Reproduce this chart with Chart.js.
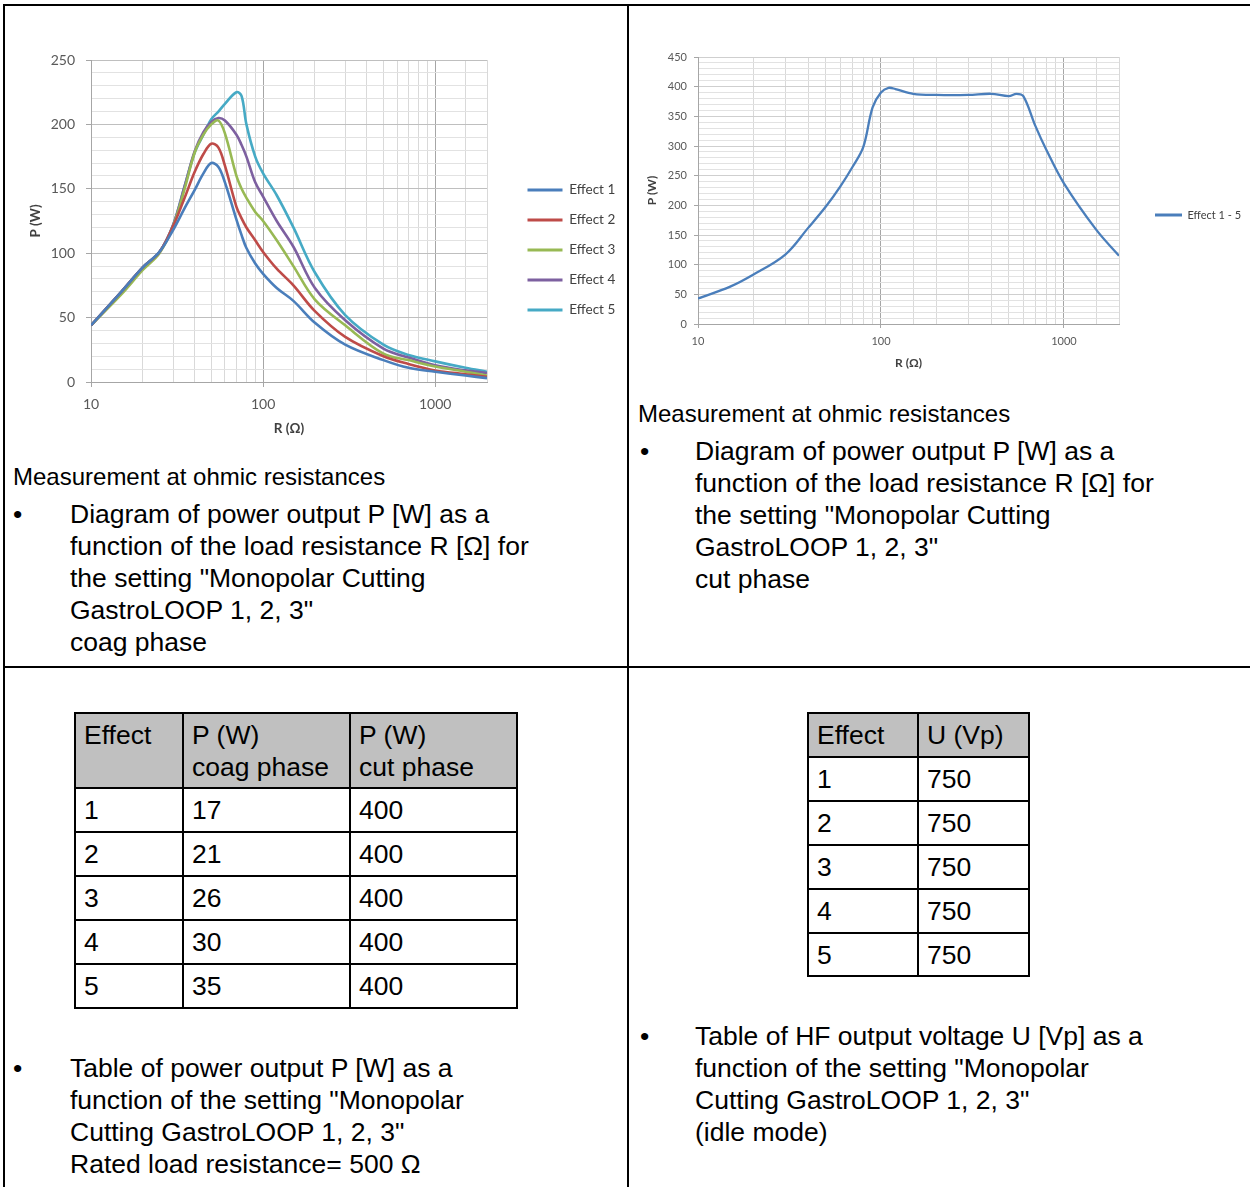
<!DOCTYPE html>
<html>
<head>
<meta charset="utf-8">
<script src="https://cdn.jsdelivr.net/npm/chart.js@4.4.1/dist/chart.umd.min.js"></script>
<style>
  body { margin: 0; width: 1250px; height: 1187px; overflow: hidden; background: #fff; position: relative;
         font-family: "Liberation Sans", Arial, sans-serif; color: #000; }
  .ln { position: absolute; background: #000; }
  .txt { position: absolute; font-size: 26.5px; line-height: 32px; white-space: nowrap; }
  .cap { position: absolute; font-size: 24px; line-height: 32px; white-space: nowrap; }
  canvas { position: absolute; }
  table { position: absolute; border-collapse: collapse; table-layout: fixed; font-size: 26.5px; }
  td { border: 2px solid #000; padding: 0 0 0 8px; line-height: 32px; white-space: nowrap; vertical-align: middle; }
  tr.head td { background: #c0c0c0; vertical-align: top; padding-top: 5px; }
</style>
</head>
<body>
<div class="ln" style="left:3px;top:4px;width:2px;height:1183px"></div>
<div class="ln" style="left:3px;top:4px;width:1247px;height:2px"></div>
<div class="ln" style="left:627px;top:4px;width:2px;height:1183px"></div>
<div class="ln" style="left:3px;top:666px;width:1247px;height:2px"></div>

<canvas id="coag" width="601" height="410" style="left:20px;top:30px"></canvas>
<canvas id="cut" width="608" height="343" style="left:640px;top:30px"></canvas>

<div class="cap" style="left:13px;top:461px">Measurement at ohmic resistances</div>
<div class="txt" style="left:13px;top:498px">•</div>
<div class="txt" style="left:70px;top:498px">Diagram of power output P [W] as a<br>function of the load resistance R [Ω] for<br>the setting "Monopolar Cutting<br>GastroLOOP 1, 2, 3"<br>coag phase</div>

<div class="cap" style="left:638px;top:398px">Measurement at ohmic resistances</div>
<div class="txt" style="left:640px;top:435px">•</div>
<div class="txt" style="left:695px;top:435px">Diagram of power output P [W] as a<br>function of the load resistance R [Ω] for<br>the setting "Monopolar Cutting<br>GastroLOOP 1, 2, 3"<br>cut phase</div>

<table id="tblPower" style="left:74px;top:712px"></table>
<div class="txt" style="left:13px;top:1052px">•</div>
<div class="txt" style="left:70px;top:1052px">Table of power output P [W] as a<br>function of the setting "Monopolar<br>Cutting GastroLOOP 1, 2, 3"<br>Rated load resistance= 500 Ω</div>

<table id="tblVolt" style="left:807px;top:712px"></table>
<div class="txt" style="left:640px;top:1020px">•</div>
<div class="txt" style="left:695px;top:1020px">Table of HF output voltage U [Vp] as a<br>function of the setting "Monopolar<br>Cutting GastroLOOP 1, 2, 3"<br>(idle mode)</div>

<script>
// coag phase, P (W) against R (ohm)
const rCoag    = [10, 15, 20, 25, 30, 35, 40, 45, 50, 55, 60, 70, 75, 80, 90, 100, 120, 150, 200, 300, 500, 700, 1000, 1500, 2000];
const effect1  = [44, 70, 89, 101, 118, 135, 149, 162, 170, 167, 155, 126, 114, 104, 92, 84, 73, 63, 46, 29, 17, 11, 8, 5, 3];
const effect2  = [44, 70, 89, 101, 121, 143, 163, 177, 185, 182, 168, 136, 127, 120, 110, 101, 88, 75, 55, 35, 20, 14, 9, 6, 4];
const effect3  = [44, 68, 87, 100, 121, 150, 178, 192, 200, 203, 193, 160, 150, 143, 132, 125, 110, 90, 64, 44, 22, 17, 12, 8, 5];
const effect4  = [44, 70, 89, 101, 122, 152, 179, 194, 202, 205, 203, 192, 184, 175, 155, 144, 125, 105, 73, 48, 26, 19, 13, 9, 7];
const effect5  = [44, 70, 89, 101, 122, 152, 178, 192, 204, 210, 216, 225, 222, 200, 175, 162, 145, 120, 85, 52, 29, 21, 16, 11, 8];

// cut phase, effect 1 - 5
const rCut     = [10, 15, 20, 30, 40, 50, 60, 70, 80, 90, 100, 110, 120, 150, 200, 300, 400, 500, 550, 600, 700, 800, 1000, 1500, 2000];
const pCut     = [43, 63, 83, 117, 162, 198, 232, 265, 298, 365, 390, 398, 396, 388, 386, 386, 388, 384, 388, 384, 333, 294, 237, 159, 115];

// tables
const effects  = [1, 2, 3, 4, 5];
const pCoagTab = [17, 21, 26, 30, 35];
const pCutTab  = [400, 400, 400, 400, 400];
const uIdle    = [750, 750, 750, 750, 750];

const decades = [10, 100, 1000];
const colors = ['#4a7ebb', '#be4b48', '#98b954', '#7d60a0', '#46aac5'];

function pts(xs, ys) { return xs.map((x, i) => ({x: x, y: ys[i]})); }
function isDecade(v) { return decades.includes(Math.round(v)); }

function axes(o) {
  return {
    x: {
      type: 'logarithmic', min: 10, max: 2000,
      afterFit: s => { s.height = o.xh; },
      border: {color: '#a6a6a6', width: 1},
      grid: {
        color: c => isDecade(c.tick.value) ? '#a6a6a6' : '#d9d9d9',
        tickColor: c => isDecade(c.tick.value) ? '#a6a6a6' : 'rgba(0,0,0,0)',
        tickLength: o.tl
      },
      ticks: {
        autoSkip: false, maxRotation: 0, padding: o.xpad, color: '#595959',
        font: {family: 'Lato', size: o.fs},
        callback: v => isDecade(v) ? String(Math.round(v)) : ''
      },
      title: {display: true, text: 'R (Ω)', color: '#404040', padding: {top: 4, bottom: 3},
              font: {family: 'Lato', size: o.ts, weight: 'bold'}}
    },
    y: {
      min: 0, max: o.ymax,
      afterFit: s => { s.width = o.yw; },
      border: {color: '#a6a6a6', width: 1},
      grid: {
        color: c => c.tick.value % 50 === 0 ? o.major : '#e2e2e2',
        tickColor: c => c.tick.value % 50 === 0 ? '#a6a6a6' : 'rgba(0,0,0,0)',
        tickLength: o.tl
      },
      ticks: {
        stepSize: 10, autoSkip: false, padding: o.ypad, color: '#595959',
        font: {family: 'Lato', size: o.fs},
        callback: v => v % 50 === 0 ? String(v) : ''
      },
      title: {display: true, text: 'P (W)', color: '#404040', padding: {top: 4, bottom: 4},
              font: {family: 'Lato', size: o.ts, weight: 'bold'}}
    },
    gap: {
      position: 'right', display: true,
      afterFit: s => { s.width = o.gap; },
      grid: {display: false}, border: {display: false}, ticks: {display: false}
    }
  };
}

function legendOpts(o) {
  return {
    position: 'right', maxWidth: o.lw,
    labels: {
      boxWidth: o.bw, boxHeight: 3, padding: o.lp, color: '#404040',
      font: {family: 'Lato', size: o.lfs},
      generateLabels: ch => Chart.defaults.plugins.legend.labels.generateLabels(ch)
        .map(l => Object.assign(l, {lineWidth: 0}))
    }
  };
}

function line(label, xs, ys, color, w) {
  return {label: label, data: pts(xs, ys), borderColor: color, backgroundColor: color,
          borderWidth: w, pointRadius: 0, tension: 0.35};
}

new Chart(document.getElementById('coag'), {
  type: 'line',
  data: {
    datasets: [effect1, effect2, effect3, effect4, effect5]
      .map((d, i) => line('Effect ' + (i + 1), rCoag, d, colors[i], 2.6))
  },
  options: {
    responsive: false, animation: false, devicePixelRatio: 1,
    layout: {padding: {left: 4, top: 30, right: 0, bottom: 0}},
    scales: axes({xh: 58, yw: 67, tl: 5, xpad: 9, ypad: 11, fs: 14, ts: 13.5, ymax: 250, gap: 24, major: '#bfbfbf'}),
    plugins: {legend: legendOpts({lw: 110, bw: 35, lp: 16.5, lfs: 13.5}), tooltip: {enabled: false}}
  }
});

new Chart(document.getElementById('cut'), {
  type: 'line',
  data: {datasets: [line('Effect 1 - 5', rCut, pCut, colors[0], 2.3)]},
  options: {
    responsive: false, animation: false, devicePixelRatio: 1,
    layout: {padding: {left: 1, top: 27, right: 0, bottom: 0}},
    scales: axes({xh: 49, yw: 57, tl: 4, xpad: 7, ypad: 7, fs: 11, ts: 12, ymax: 450, gap: 26, major: '#cfcfcf'}),
    plugins: {legend: legendOpts({lw: 103, bw: 27, lp: 10, lfs: 11}), tooltip: {enabled: false}}
  }
});

// tables
let h = '<colgroup><col style="width:108px"><col style="width:167px"><col style="width:167px"></colgroup>';
h += '<tr class="head" style="height:75px"><td>Effect</td><td>P (W)<br>coag phase</td><td>P (W)<br>cut phase</td></tr>';
effects.forEach((e, i) => {
  h += '<tr style="height:44px"><td>' + e + '</td><td>' + pCoagTab[i] + '</td><td>' + pCutTab[i] + '</td></tr>';
});
document.getElementById('tblPower').innerHTML = h;

let v = '<colgroup><col style="width:110px"><col style="width:111px"></colgroup>';
v += '<tr class="head" style="height:44px"><td>Effect</td><td>U (Vp)</td></tr>';
effects.forEach((e, i) => {
  v += '<tr style="height:' + (i === 4 ? 43 : 44) + 'px"><td>' + e + '</td><td>' + uIdle[i] + '</td></tr>';
});
document.getElementById('tblVolt').innerHTML = v;
</script>
</body>
</html>
